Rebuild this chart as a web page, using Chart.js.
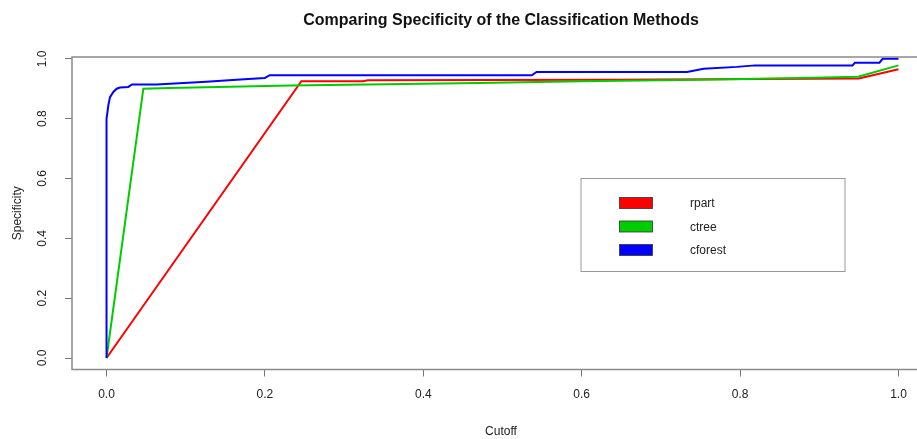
<!DOCTYPE html>
<html>
<head>
<meta charset="utf-8">
<title>Comparing Specificity of the Classification Methods</title>
<script src="https://cdn.jsdelivr.net/npm/chart.js@4/dist/chart.umd.min.js"></script>
<style>
  html, body { margin: 0; padding: 0; background: #fff; overflow: hidden; }
  #wrap { width: 917px; height: 439px; overflow: hidden; }
</style>
</head>
<body>
<div id="wrap"><canvas id="specChart" width="960" height="439"></canvas></div>
<script>
// ---- data ----
const methodNames = ['rpart', 'ctree', 'cforest'];
const methodColors = ['#ff0000', '#00cd00', '#0000ff'];

const cutoffRpart = [0, 0.246, 0.324, 0.33, 0.636, 0.95, 1.0];
const specRpart   = [0, 0.925, 0.925, 0.928, 0.930, 0.934, 0.965];

const cutoffCtree = [0, 0.0465, 0.08, 0.232, 0.329, 0.47, 0.6, 0.75, 0.892, 0.949, 1.0];
const specCtree   = [0, 0.900, 0.902, 0.911, 0.914, 0.919, 0.925, 0.930, 0.937, 0.940, 0.978];

const cutoffCforest = [0, 0, 0.001, 0.0023, 0.0044, 0.0086, 0.0129, 0.017, 0.0275, 0.032, 0.063,
  0.126, 0.169, 0.2, 0.206, 0.537, 0.543, 0.733, 0.754, 0.796, 0.819, 0.942, 0.945, 0.976, 0.98, 1.0];
const specCforest   = [0, 0.80, 0.818, 0.845, 0.872, 0.889, 0.900, 0.904, 0.906, 0.914, 0.914,
  0.923, 0.931, 0.936, 0.945, 0.945, 0.956, 0.956, 0.967, 0.973, 0.978, 0.978, 0.987, 0.987, 1.0, 1.0];

const xTicks = [0, 0.2, 0.4, 0.6, 0.8, 1.0];
const yTicks = [0, 0.2, 0.4, 0.6, 0.8, 1.0];

const toPoints = (xs, ys) => xs.map((x, i) => ({ x: x, y: ys[i] }));

const FONT = "'Liberation Sans', Arial, sans-serif";

// 标题、外框和图例（R 风格）
const rStylePlugin = {
  id: 'rStyle',
  afterDatasetsDraw(chart) {
    const { ctx, chartArea: a } = chart;
    ctx.save();
    // plot box
    ctx.strokeStyle = '#8a8a8a';
    ctx.lineWidth = 1.5;
    ctx.strokeRect(a.left, a.top, a.right - a.left, a.bottom - a.top);

    // legend box
    ctx.lineWidth = 1;
    ctx.strokeStyle = '#999';
    ctx.fillStyle = '#fff';
    ctx.fillRect(581, 178.5, 264, 93);
    ctx.strokeRect(581, 178.5, 264, 93);
    const rowY = [203, 226.5, 250];
    ctx.font = '12px ' + FONT;
    ctx.textBaseline = 'middle';
    ctx.textAlign = 'left';
    methodNames.forEach((name, i) => {
      ctx.fillStyle = methodColors[i];
      ctx.fillRect(619.5, rowY[i] - 5.5, 33, 11);
      ctx.strokeStyle = '#333';
      ctx.lineWidth = 0.8;
      ctx.strokeRect(619.5, rowY[i] - 5.5, 33, 11);
      ctx.fillStyle = '#222';
      ctx.fillText(name, 690, rowY[i] + 1);
    });
    ctx.restore();
  },
  afterDraw(chart) {
    const { ctx, chartArea: a } = chart;
    ctx.save();
    ctx.font = 'bold 16px ' + FONT;
    ctx.fillStyle = '#111';
    ctx.textAlign = 'center';
    ctx.textBaseline = 'middle';
    ctx.fillText('Comparing Specificity of the Classification Methods', (a.left + a.right) / 2, 21);
    ctx.restore();
  }
};

const ctx = document.getElementById('specChart').getContext('2d');
new Chart(ctx, {
  type: 'line',
  data: {
    datasets: [
      { label: methodNames[0], data: toPoints(cutoffRpart, specRpart), borderColor: methodColors[0], order: 2 },
      { label: methodNames[1], data: toPoints(cutoffCtree, specCtree), borderColor: methodColors[1], order: 1 },
      { label: methodNames[2], data: toPoints(cutoffCforest, specCforest), borderColor: methodColors[2], order: 0 }
    ]
  },
  options: {
    responsive: false,
    animation: false,
    devicePixelRatio: 1,
    layout: { padding: { top: 57, right: 30, left: 0, bottom: 0 } },
    elements: {
      line: { borderWidth: 2, tension: 0, fill: false },
      point: { radius: 0, hoverRadius: 0 }
    },
    plugins: { legend: { display: false }, title: { display: false }, tooltip: { enabled: false } },
    scales: {
      x: {
        type: 'linear',
        min: -0.0436,
        max: 1.0398,
        afterBuildTicks: s => { s.ticks = xTicks.map(v => ({ value: v })); },
        afterFit: s => { s.height = 69.5; },
        border: { display: false },
        grid: { drawOnChartArea: false, drawTicks: true, tickLength: 7, color: '#777', lineWidth: 1 },
        ticks: {
          padding: 11,
          color: '#222',
          font: { size: 12, family: FONT },
          maxRotation: 0,
          callback: v => v.toFixed(1)
        },
        title: { display: true, text: 'Cutoff', color: '#222', font: { size: 12, family: FONT }, padding: { top: 0, bottom: 0 } }
      },
      y: {
        type: 'linear',
        min: -0.0384,
        max: 1.006,
        afterBuildTicks: s => { s.ticks = yTicks.map(v => ({ value: v })); },
        afterFit: s => { s.width = 72; },
        border: { display: false },
        grid: { drawOnChartArea: false, drawTicks: true, tickLength: 7, color: '#777', lineWidth: 1 },
        ticks: {
          padding: 14,
          color: '#222',
          minRotation: 90,
          maxRotation: 90,
          crossAlign: 'center',
          font: { size: 12, family: FONT },
          callback: v => v.toFixed(1)
        },
        title: { display: true, text: 'Specificity', color: '#222', font: { size: 12, family: FONT }, padding: { top: 10, bottom: 0 } }
      }
    }
  },
  plugins: [rStylePlugin]
});
</script>
</body>
</html>
